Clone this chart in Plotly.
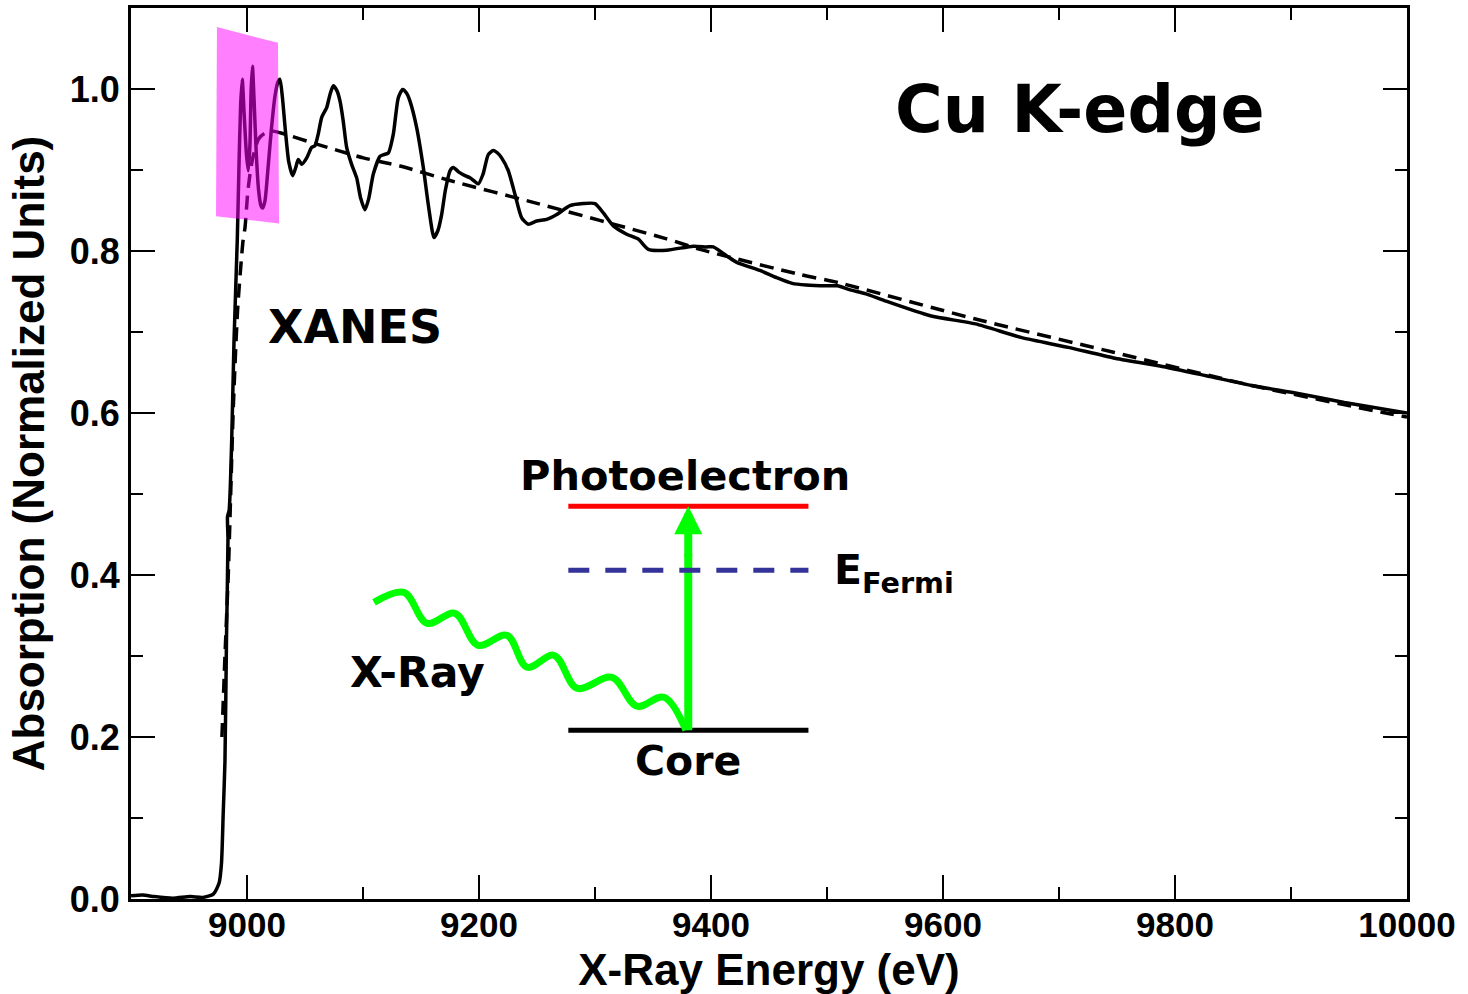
import plotly.graph_objects as go

# ---- measured absorption spectrum (solid) ----
energy = [8900, 8910, 8920, 8936, 8951, 8962, 8971, 8976, 8978, 8979.5, 8981, 8982.3, 8983.6, 8983.2, 8984.6,
          8986.8, 8988.8, 8991.6, 8993, 8994.5, 8995.9, 8997.5, 8999.5, 9001.1, 9002.5, 9003.6, 9004.7,
          9006, 9008, 9010, 9012, 9013.5, 9015.5, 9018, 9021, 9024, 9026.5, 9028.4, 9030.5, 9033, 9036,
          9039.4, 9042, 9044.2, 9047.2, 9051.5, 9055.8, 9058.6, 9061.5, 9064.4, 9068.7, 9071.5, 9074.4,
          9077.5, 9080.2, 9083, 9085.9, 9090.2, 9094.6, 9098, 9101.7, 9105, 9108.9, 9114.7, 9118, 9121.8,
          9126.1, 9130.4, 9134.2, 9137.5, 9140.5, 9146.3, 9152, 9156.5, 9161.2, 9164.5, 9167.8, 9171, 9175,
          9177.9, 9183, 9187.9, 9192.2, 9199.4, 9203.5, 9208, 9212.3, 9216, 9219.5, 9225.3, 9231, 9236.8,
          9242.5, 9249.7, 9258.4, 9267, 9278.4, 9289.9, 9300, 9307.2, 9315.8, 9327.3, 9337.4, 9346, 9361.8,
          9384.8, 9396, 9402, 9413.5, 9422.2, 9442.2, 9456.6, 9470, 9482, 9500, 9509, 9520, 9533.6, 9549,
          9589, 9628, 9668, 9708, 9747, 9787, 9827, 9866, 9906, 9946, 10000]
absorption = [0.004, 0.005, 0.003, 0.001, 0.003, 0.002, 0.006, 0.020, 0.044, 0.106, 0.170, 0.320, 0.445, 0.472, 0.480,
              0.566, 0.689, 0.813, 0.900, 0.980, 1.012, 0.970, 0.920, 0.899, 0.930, 1.000, 1.028,
              0.990, 0.920, 0.875, 0.856, 0.853, 0.862, 0.900, 0.950, 0.990, 1.008, 1.012, 0.990, 0.950, 0.910,
              0.893, 0.903, 0.913, 0.907, 0.915, 0.928, 0.930, 0.945, 0.965, 0.977, 0.993, 1.004,
              0.998, 0.985, 0.960, 0.928, 0.907, 0.890, 0.865, 0.851, 0.865, 0.895, 0.917, 0.919, 0.921,
              0.944, 0.989, 0.9995, 0.995, 0.985, 0.952, 0.903, 0.855, 0.8166, 0.825, 0.845, 0.875, 0.899,
              0.903, 0.897, 0.893, 0.8905, 0.883, 0.895, 0.919, 0.924, 0.921, 0.915, 0.899, 0.870, 0.841,
              0.833, 0.837, 0.839, 0.845, 0.856, 0.8586, 0.8586, 0.847, 0.831, 0.8207, 0.8146, 0.802, 0.801,
              0.806, 0.805, 0.805, 0.794, 0.786, 0.776, 0.767, 0.760, 0.758, 0.757, 0.757, 0.752, 0.747, 0.739,
              0.720, 0.710, 0.693, 0.681, 0.668, 0.658, 0.646, 0.634, 0.624, 0.613, 0.600]

# ---- post-edge background (dashed) ----
bg_energy = [8978.4, 8981, 8983.9, 8988.2, 8992, 8996.6, 8998.3, 9000.5, 9002.6, 9005, 9009.8, 9015, 9021.3,
             9028.4, 9060, 9100.3, 9131.9, 9175, 9246.8, 9361.8, 9390.5, 9476.7, 9509.5, 9628, 9747, 9866,
             9985, 10000]
bg_absorption = [0.200, 0.300, 0.402, 0.607, 0.730, 0.813, 0.829, 0.870, 0.895, 0.915, 0.938, 0.945, 0.948,
                 0.946, 0.932, 0.915, 0.905, 0.887, 0.860, 0.815, 0.802, 0.771, 0.761, 0.716, 0.675, 0.634,
                 0.599, 0.595]

# ---- XANES highlight region ----
xanes_box_x = [8974.1, 9026.7, 9027.6, 8973.3]
xanes_box_y = [1.0765, 1.057, 0.834, 0.843]

# ---- energy-level schematic ----
level_x = [9277, 9484]
photoelectron_y = 0.485
fermi_y = 0.406
core_y = 0.2084
arrow_x = 9380.4
wave_x = [9109.5, 9135.3, 9155.2, 9179.3, 9199.1, 9224.1, 9241.4, 9264.7, 9284.5, 9314.7, 9336.2, 9359.5, 9378.4]
wave_y = [0.3662, 0.3785, 0.3403, 0.3527, 0.3132, 0.3255, 0.2861, 0.3009, 0.2602, 0.2737, 0.2380, 0.2491, 0.2084]

x_range = [8900, 10000]
y_range = [0, 1.1]

fig = go.Figure()

fig.add_trace(go.Scatter(x=energy, y=absorption, mode='lines',
                         line=dict(color='black', width=3.5, shape='spline', smoothing=0.6)))
fig.add_trace(go.Scatter(x=bg_energy, y=bg_absorption, mode='lines',
                         line=dict(color='black', width=3.5, dash='14px,8px', shape='spline', smoothing=0.6)))

# schematic
fig.add_trace(go.Scatter(x=level_x, y=[core_y, core_y], mode='lines', line=dict(color='black', width=5)))
fig.add_trace(go.Scatter(x=wave_x, y=wave_y, mode='lines',
                         line=dict(color='#00ff00', width=7, shape='spline', smoothing=1.0)))
fig.add_trace(go.Scatter(x=[arrow_x, arrow_x], y=[core_y, fermi_y + 0.02], mode='lines',
                         line=dict(color='#00ff00', width=8)))
fig.add_trace(go.Scatter(x=level_x, y=[fermi_y, fermi_y], mode='lines',
                         line=dict(color='#333399', width=5, dash='21px,16px')))
fig.add_trace(go.Scatter(x=level_x, y=[photoelectron_y, photoelectron_y], mode='lines',
                         line=dict(color='#ff0000', width=5)))

# XANES highlight (semi-transparent magenta, above the curves)
path = "M " + " L ".join(f"{x},{y}" for x, y in zip(xanes_box_x, xanes_box_y)) + " Z"
fig.add_shape(type='path', path=path, xref='x', yref='y', fillcolor='rgba(255,0,255,0.5)',
              line=dict(width=0), layer='above')

afont = dict(family='DejaVu Sans', color='black', weight='bold')

fig.add_annotation(x=arrow_x, y=photoelectron_y, ax=arrow_x, ay=fermi_y + 0.015, xref='x', yref='y',
                   axref='x', ayref='y', text='', showarrow=True, arrowhead=2, arrowsize=0.7,
                   arrowwidth=8, arrowcolor='#00ff00')

def label(text, x, y, size, xanchor='center'):
    fig.add_annotation(x=x, y=y, xref='x', yref='y', text=text, showarrow=False,
                       xanchor=xanchor, yanchor='middle', font=dict(size=size, **afont))

label('Cu K-edge', 9717.7, 0.975, 65)
label('XANES', 9093.1, 0.706, 46)
label('Photoelectron', 9378.0, 0.523, 41.5)
label('E<sub>Fermi</sub>', 9504.5, 0.402, 41, xanchor='left')
label('X-Ray', 9147.0, 0.280, 42.5)
label('Core', 9380.2, 0.170, 41)

axfont = dict(family='Liberation Sans, Arial', color='black', weight='bold')

fig.update_layout(
    template='none',
    width=1468, height=994,
    margin=dict(l=131, r=61, t=8, b=95),
    paper_bgcolor='white', plot_bgcolor='white',
    showlegend=False,
    xaxis=dict(range=x_range, tick0=9000, dtick=200, tickformat='d', ticks='inside', ticklen=24, tickwidth=2,
               tickcolor='black', showline=True, linewidth=3, linecolor='black', mirror='ticks',
               showgrid=False, zeroline=False, automargin=False,
               minor=dict(dtick=100, tick0=8900, ticks='inside', ticklen=12, tickwidth=2, tickcolor='black',
                          showgrid=False),
               tickfont=dict(size=35, **axfont), ticklabelstandoff=-7,
               title=dict(text='X-Ray Energy (eV)', font=dict(size=44, **axfont), standoff=20)),
    yaxis=dict(range=y_range, tick0=0, dtick=0.2, tickformat='.1f', ticks='inside', ticklen=24, tickwidth=2,
               tickcolor='black', showline=True, linewidth=3, linecolor='black', mirror='ticks',
               showgrid=False, zeroline=False, automargin=False,
               minor=dict(dtick=0.1, tick0=0, ticks='inside', ticklen=12, tickwidth=2, tickcolor='black',
                          showgrid=False),
               tickfont=dict(size=36, **axfont), ticklabelstandoff=1,
               title=dict(text='Absorption (Normalized Units)', font=dict(size=44, **axfont), standoff=12)),
)

fig.write_html('out.html')
